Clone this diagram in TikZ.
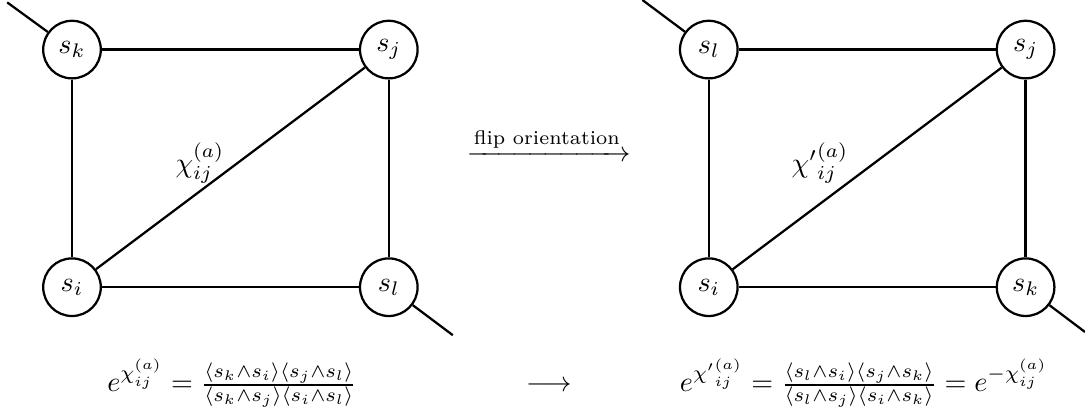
\documentclass[tikz,border=0pt]{standalone}
\usepackage{amsmath}
\begin{document}
\begin{tikzpicture}[thick]

    \useasboundingbox (0,0) rectangle (13.5625,5.2);

    % Vertices of the left quadrilateral
    \node[draw, circle, minimum size=0.72cm, inner sep=0pt] (k) at (0.9,4.58) {$s_k$};
    \node[draw, circle, minimum size=0.72cm, inner sep=0pt] (j) at (4.86,4.58) {$s_j$};
    \node[draw, circle, minimum size=0.72cm, inner sep=0pt] (i) at (0.9,1.61) {$s_i$};
    \node[draw, circle, minimum size=0.72cm, inner sep=0pt] (l) at (4.86,1.61) {$s_l$};

    % Vertices of the right quadrilateral
    \node[draw, circle, minimum size=0.72cm, inner sep=0pt] (l2) at (8.86,4.58) {$s_l$};
    \node[draw, circle, minimum size=0.72cm, inner sep=0pt] (j2) at (12.82,4.58) {$s_j$};
    \node[draw, circle, minimum size=0.72cm, inner sep=0pt] (i2) at (8.86,1.61) {$s_i$};
    \node[draw, circle, minimum size=0.72cm, inner sep=0pt] (k2) at (12.82,1.61) {$s_k$};

    % Loose ends
    \coordinate (kout) at (0.09,5.17);
    \coordinate (lout) at (5.66,1.01);
    \coordinate (l2out) at (8.03,5.2);
    \coordinate (k2out) at (13.5625,1.05);

    % Edges, left
    \draw (k) -- (j);
    \draw (k) -- (i);
    \draw (j) -- (l);
    \draw (i) -- (l);
    \draw (i) -- (j);
    \draw (k) -- (kout);
    \draw (l) -- (lout);

    % Edges, right
    \draw (l2) -- (j2);
    \draw (l2) -- (i2);
    \draw (j2) -- (k2);
    \draw (i2) -- (k2);
    \draw (i2) -- (j2);
    \draw (l2) -- (l2out);
    \draw (k2) -- (k2out);

    % Diagonal labels
    \node (chi) at (2.5,3.16) {$\chi_{ij}^{(a)}$};
    \node (chip) at (10.25,3.16) {${\chi'}_{ij}^{(a)}$};

    % Flip arrow
    \node (flip) at (6.86,3.39) {$\xrightarrow{\text{flip orientation}}$};

    % Cross ratios
    \node[anchor=base] (lhs) at (2.9,0.3) {$e^{\chi_{ij}^{(a)}} = \frac{\langle s_k\wedge s_i\rangle\langle s_j\wedge s_l\rangle}{\langle s_k\wedge s_j\rangle\langle s_i\wedge s_l\rangle}$};
    \node[anchor=base] (to) at (6.86,0.3) {$\longrightarrow$};
    \node[anchor=base] (rhs) at (10.8,0.3) {$e^{{\chi'}_{ij}^{(a)}} = \frac{\langle s_l\wedge s_i\rangle\langle s_j\wedge s_k\rangle}{\langle s_l\wedge s_j\rangle\langle s_i\wedge s_k\rangle} = e^{-\chi_{ij}^{(a)}}$};

\end{tikzpicture}
\end{document}
